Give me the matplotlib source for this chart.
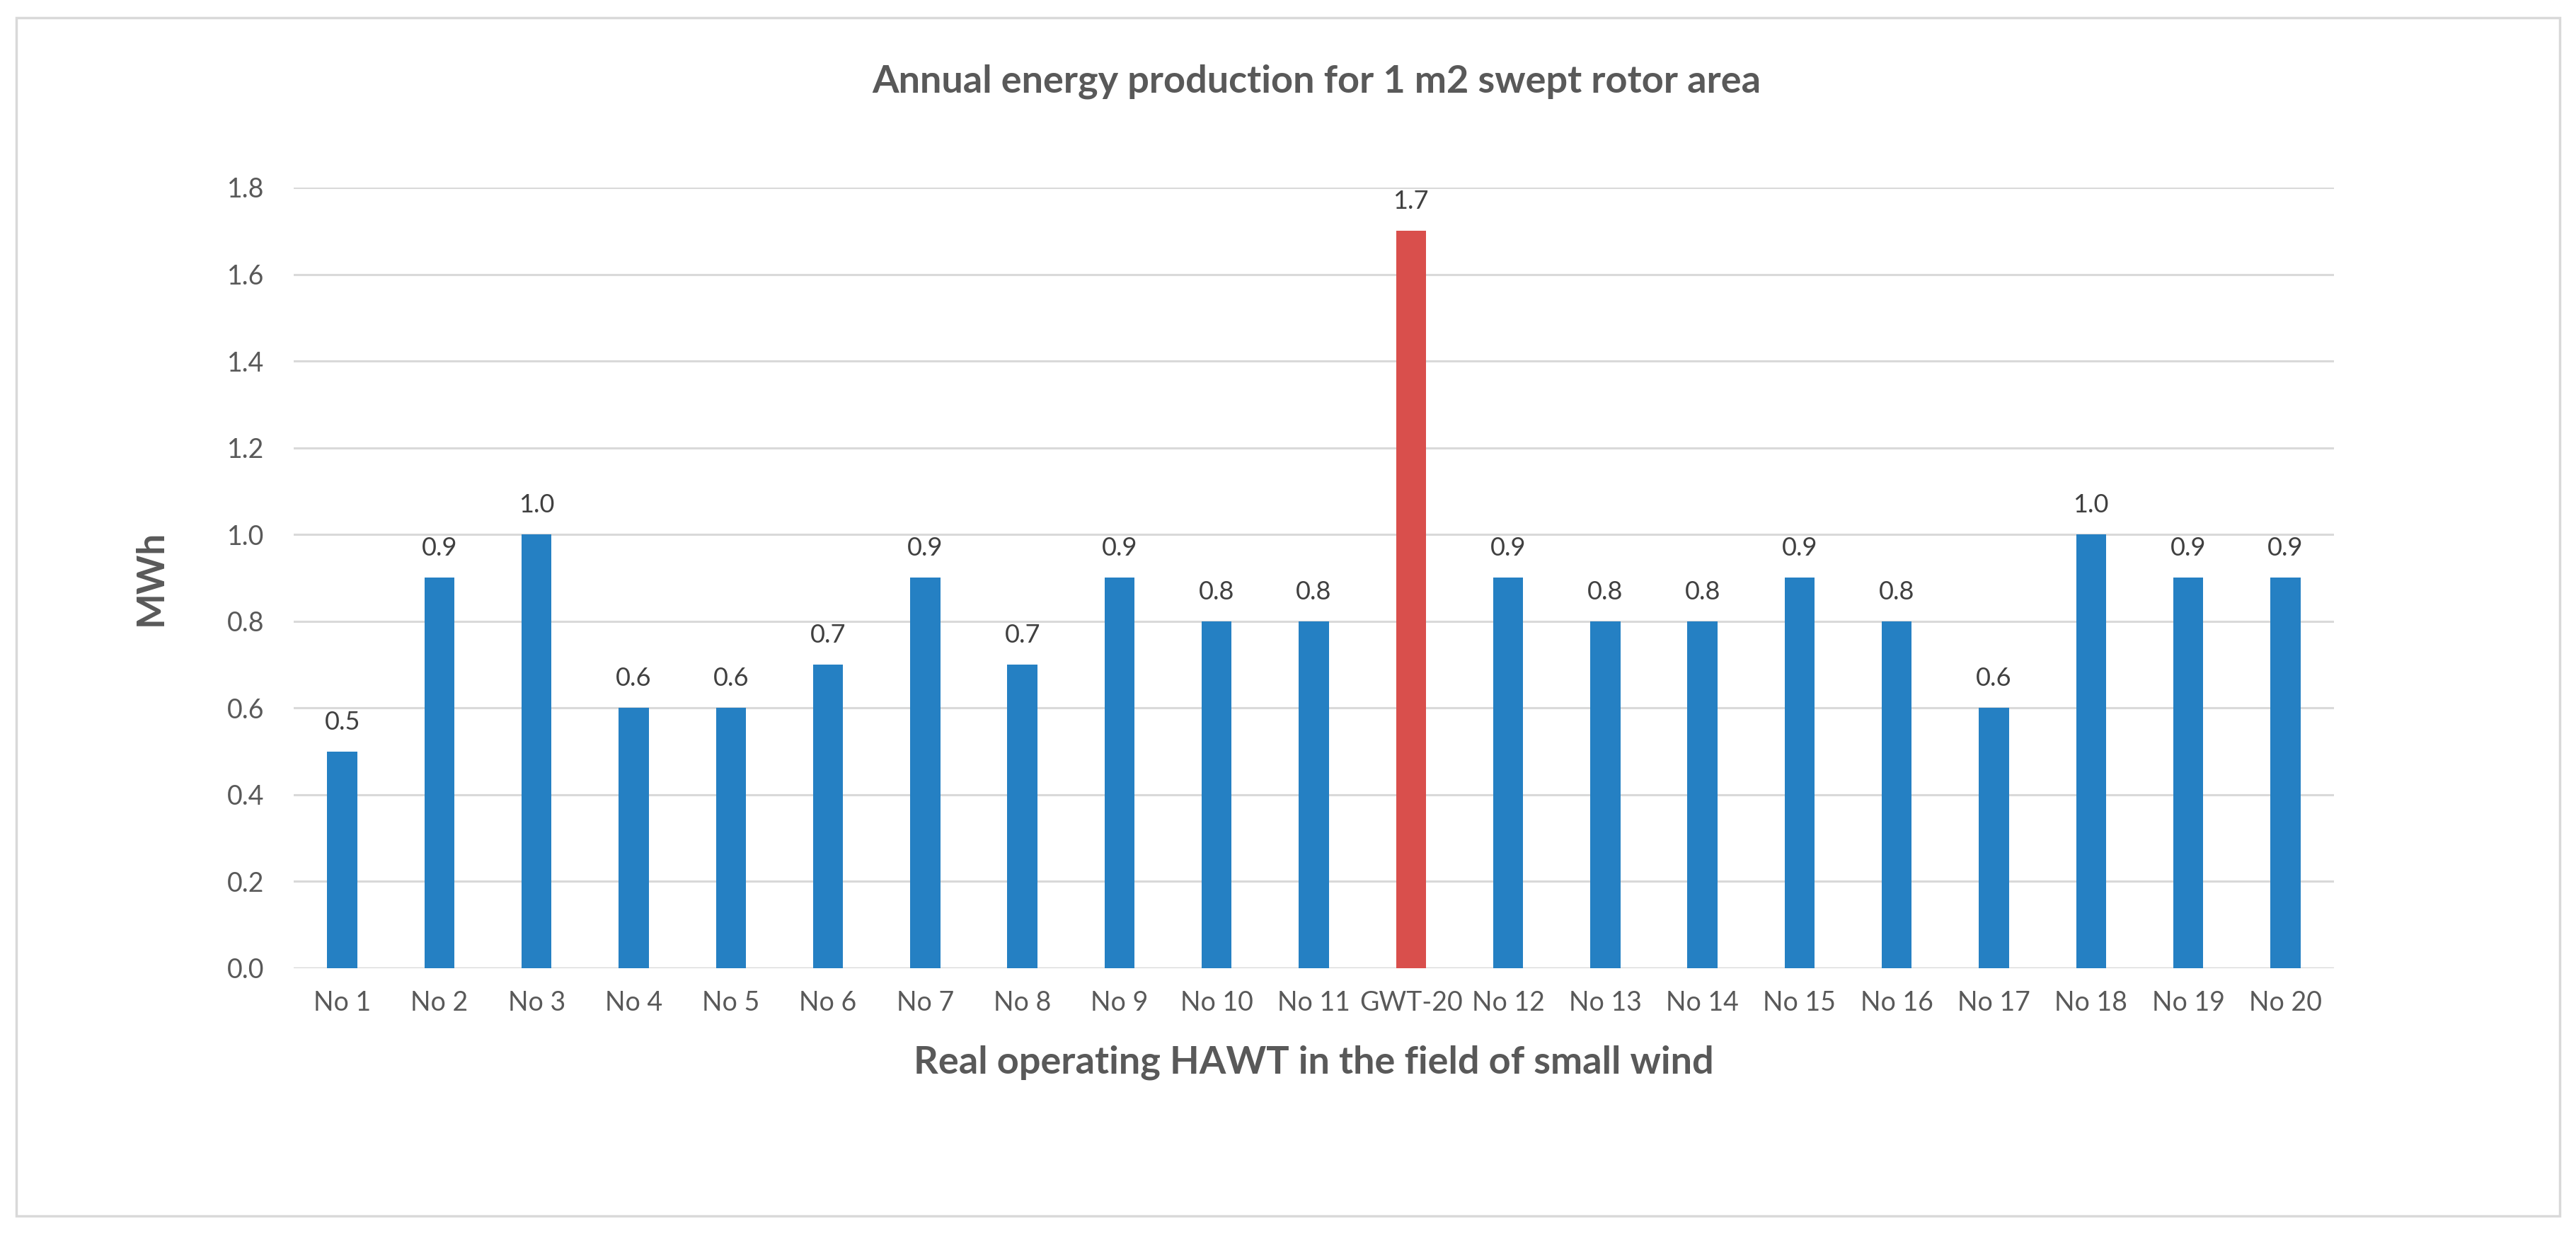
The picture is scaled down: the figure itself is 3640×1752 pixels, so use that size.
import matplotlib
matplotlib.use("Agg")
import matplotlib.pyplot as plt
from matplotlib.patches import Rectangle

categories = ["No 1", "No 2", "No 3", "No 4", "No 5", "No 6", "No 7", "No 8", "No 9",
              "No 10", "No 11", "GWT-20", "No 12", "No 13", "No 14", "No 15", "No 16",
              "No 17", "No 18", "No 19", "No 20"]
values = [0.5, 0.9, 1.0, 0.6, 0.6, 0.7, 0.9, 0.7, 0.9, 0.8, 0.8, 1.7, 0.9, 0.8, 0.8,
          0.9, 0.8, 0.6, 1.0, 0.9, 0.9]
highlight = "GWT-20"
y_ticks = [0.0, 0.2, 0.4, 0.6, 0.8, 1.0, 1.2, 1.4, 1.6, 1.8]

BLUE = "#2580C3"
RED = "#D94F4C"
GRID = "#D9D9D9"
TXT = "#595959"

plt.rcParams['font.family'] = ['Lato', 'DejaVu Sans']

fig = plt.figure(figsize=(36.4, 17.52), dpi=100)
fig.patch.set_facecolor("white")
W, H = 3640, 1752
fig.patches.append(Rectangle((23 / W, 1 - 1718 / H), (3617 - 23) / W, (1718 - 25) / H,
                             transform=fig.transFigure, fill=False,
                             edgecolor=GRID, linewidth=2.5))

ax = fig.add_axes([415 / W, 1 - 1368 / H, (3298 - 415) / W, (1368 - 265) / H])
x = list(range(len(categories)))
colors = [RED if c == highlight else BLUE for c in categories]
bars = ax.bar(x, values, width=0.31, color=colors, zorder=3)

ax.set_xlim(-0.5, len(categories) - 0.5)
ax.set_ylim(0, 1.8)
ax.set_yticks(y_ticks)
ax.set_yticklabels([f"{t:.1f}" for t in y_ticks])
ax.set_xticks(x)
ax.set_xticklabels(categories)
ax.tick_params(axis='both', length=0, labelsize=27, labelcolor=TXT)
ax.tick_params(axis='x', pad=22)
ax.tick_params(axis='y', pad=30)
ax.yaxis.grid(True, color=GRID, linewidth=2.2, zorder=0)
for s in ax.spines.values():
    s.set_visible(False)
ax.axhline(0, color=GRID, linewidth=2.5, zorder=2)

for b, v in zip(bars, values):
    ax.annotate(f"{v:.1f}", (b.get_x() + b.get_width() / 2, v), xytext=(0, 18),
                textcoords="offset points", ha="center", va="bottom",
                fontsize=26, color="#404040")

ax.set_ylabel("MWh", fontsize=38, fontweight="bold", color=TXT, labelpad=60)
ax.set_xlabel("Real operating HAWT in the field of small wind", fontsize=39,
              fontweight="bold", color=TXT, labelpad=30)
fig.text(1860 / W, 1 - 115 / H, "Annual energy production for 1 m2 swept rotor area",
         ha="center", va="center", fontsize=39, fontweight="bold", color=TXT)

fig.savefig("out.png", dpi=100, facecolor="white")
